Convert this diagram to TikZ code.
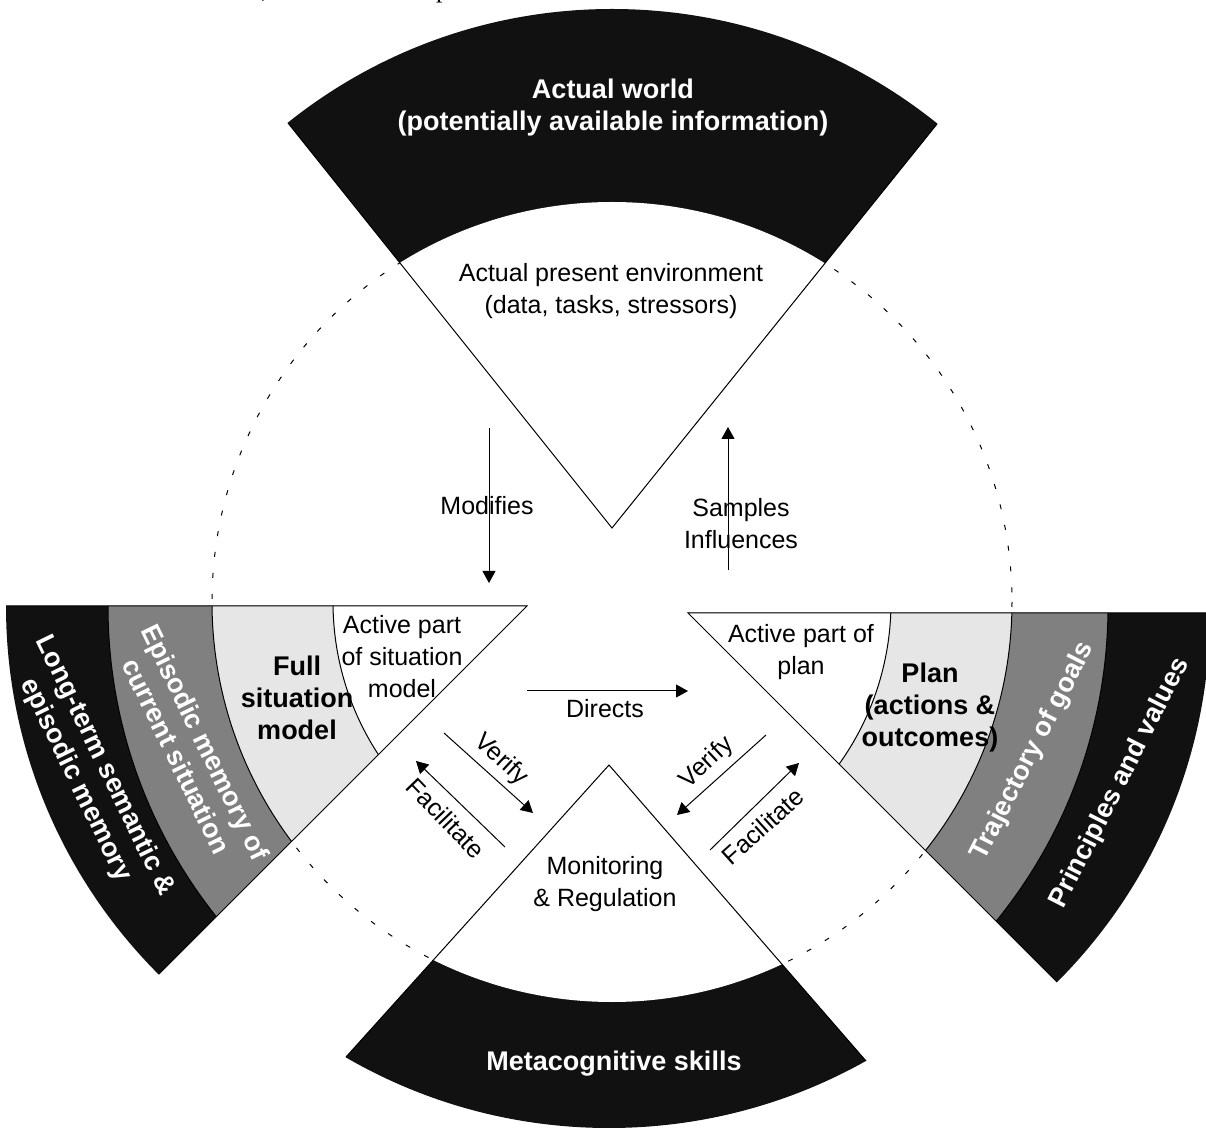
\documentclass[tikz,border=0pt]{standalone}
\usepackage{fontspec}
\setmainfont{Liberation Sans}
\newfontfamily\seriffont{Liberation Serif}
\usetikzlibrary{arrows.meta}
\definecolor{blk}{HTML}{111111}
\definecolor{dgray}{HTML}{808080}
\definecolor{lgray}{HTML}{E6E6E6}
\begin{document}
\begin{tikzpicture}[x=0.5pt,y=-0.5pt,
  lbl/.style={font=\fontsize{12.5}{16}\selectfont, align=center, inner sep=0pt},
  blbl/.style={font=\fontsize{13.5}{16}\selectfont\bfseries, align=center, inner sep=0pt},
  wlbl/.style={blbl, text=white},
  edge/.style={draw=black, line width=0.5pt},
  arr/.style={line width=0.5pt, -{Triangle[length=6pt,width=6.5pt]}}]
\fill[white] (0,0) rectangle (1206,1128);
\useasboundingbox (0,0) rectangle (1206,1128);

% cut-off text line at the top
\begin{scope}
\clip (0,0) rectangle (1206,14);
\node[anchor=base east, inner sep=0pt, font=\seriffont\fontsize{13}{13}\selectfont] (toptext) at (492,-2) {aspects of the current situation, we have developed a};
\end{scope}

% dashed circle
\draw[line width=0.5pt, dash pattern=on 2.5pt off 8pt] (612,602) circle[radius=400];

% top wedge
\coordinate (tA) at (612,528);
\coordinate (tL) at (288,123);
\coordinate (tR) at (937,124);
\begin{scope}
\clip (612,528) -- (-13,-253) -- (1239,-251) -- cycle;
\fill[blk] (612,528) circle[radius=519];
\fill[white] (612,602) circle[radius=400];
\end{scope}
\draw[edge] (tL) -- (tA) -- (tR);

% left wedge
\coordinate (lA) at (527,606);
\coordinate (lT) at (6,606);
\coordinate (lB) at (159,974);
\begin{scope}
\clip (527,606) -- (-500,606) -- (-500,1633) -- cycle;
\fill[blk] (527,606) circle[radius=521];
\filldraw[fill=dgray, edge] (608,606) circle[radius=500];
\filldraw[fill=lgray, edge] (612,602) circle[radius=400];
\filldraw[fill=white, edge] (612,602) circle[radius=279];
\end{scope}
\draw[edge] (lT) -- (lA) -- (lB);

% right wedge
\coordinate (rA) at (688,613);
\coordinate (rT) at (1210,613);
\coordinate (rB) at (1057,982);
\begin{scope}
\clip (688,613) -- (1800,613) -- (1800,1725) -- cycle;
\fill[blk] (688,613) circle[radius=522];
\filldraw[fill=dgray, edge] (608,606) circle[radius=500];
\filldraw[fill=lgray, edge] (612,602) circle[radius=400];
\filldraw[fill=white, edge] (612,602) circle[radius=279];
\end{scope}
\draw[edge] (rT) -- (rA) -- (rB);

% bottom wedge
\coordinate (bA) at (609,765);
\coordinate (bL) at (346,1057);
\coordinate (bR) at (866,1061);
\begin{scope}
\clip (609,765) -- (74,1359) -- (1134,1369) -- cycle;
\fill[blk] (609,603) circle[radius=525];
\fill[white] (612,602) circle[radius=400];
\end{scope}
\draw[edge] (bL) -- (bA) -- (bR);

% labels
\node[wlbl] (world) at (613,108) {Actual world\\(potentially available information)};
\node[lbl] (env) at (611,291) {Actual present environment\\(data, tasks, stressors)};
\node[lbl] (mod) at (487,506) {Modifies};
\node[lbl] (samp) at (741,524) {Samples\\Influences};
\node[lbl] (actsit) at (402,657) {Active part\\of situation\\model};
\node[blbl] (fullsit) at (297,698) {Full\\situation\\model};
\node[lbl] (actplan) at (801,652) {Active part of\\plan};
\node[blbl] (plan) at (930,708) {Plan\\(actions \&\\outcomes)};
\node[lbl] (dir) at (605,709) {Directs};
\node[lbl] (mon) at (605,884) {Monitoring\\\& Regulation};
\node[wlbl] (meta) at (614,1064) {Metacognitive skills};
\node[wlbl, rotate=-64] (epi) at (191,749) {Episodic memory of\\current situation};
\node[wlbl, rotate=-64] (lts) at (90,773) {Long-term semantic \&\\episodic memory};
\node[wlbl, rotate=63] (traj) at (1033,751) {Trajectory of goals};
\node[wlbl, rotate=63] (prin) at (1120,783) {Principles and values};
\node[lbl, rotate=-43] (verL) at (501,760) {Verify};
\node[lbl, rotate=-46] (facL) at (446,818) {Facilitate};
\node[lbl, rotate=43] (verR) at (707,763) {Verify};
\node[lbl, rotate=42] (facR) at (763,826) {Facilitate};

% arrows
\coordinate (m1) at (489,428); \coordinate (m2) at (489,583);
\coordinate (s1) at (728,570); \coordinate (s2) at (728,427);
\coordinate (d1) at (527,691); \coordinate (d2) at (688,691);
\coordinate (vl1) at (444,733); \coordinate (vl2) at (533,813);
\coordinate (fl1) at (505,847); \coordinate (fl2) at (416,761);
\coordinate (vr1) at (766,735); \coordinate (vr2) at (677,815);
\coordinate (fr1) at (710,850); \coordinate (fr2) at (799,763);
\draw[arr] (m1) -- (m2);
\draw[arr] (s1) -- (s2);
\draw[arr] (d1) -- (d2);
\draw[arr] (vl1) -- (vl2);
\draw[arr] (fl1) -- (fl2);
\draw[arr] (vr1) -- (vr2);
\draw[arr] (fr1) -- (fr2);
\end{tikzpicture}
\end{document}
